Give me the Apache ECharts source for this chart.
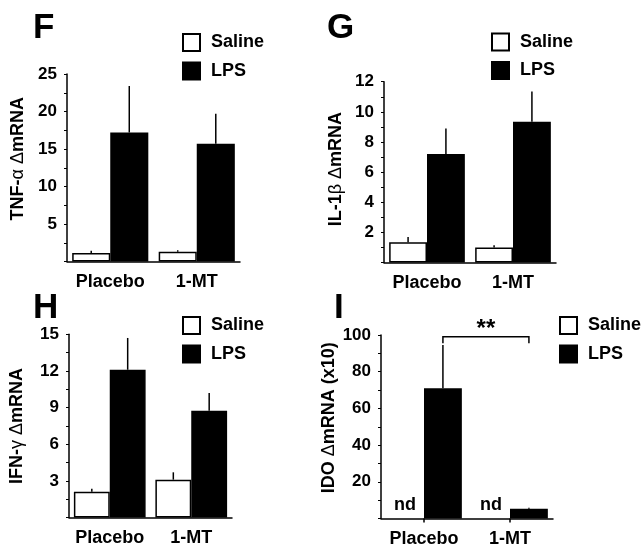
<!DOCTYPE html>
<html>
<head>
<meta charset="utf-8">
<script src="https://cdn.jsdelivr.net/npm/echarts@6/dist/echarts.min.js"></script>
<style>html,body{margin:0;padding:0;background:#fff}#c{width:642px;height:553px}</style>
</head>
<body>
<div id="c"></div>
<script>
// ---- data ----
const categories = ['Placebo', '1-MT'];
const seriesNames = ['Saline', 'LPS'];

const tnfSaline = [1.15, 1.3];
const tnfSalineErr = [0.3, 0.2];
const tnfLps = [17.2, 15.7];
const tnfLpsErr = [6.2, 4.0];

const il1Saline = [1.35, 1.0];
const il1SalineErr = [0.35, 0.15];
const il1Lps = [7.2, 9.35];
const il1LpsErr = [1.7, 2.0];

const ifnSaline = [2.1, 3.1];
const ifnSalineErr = [0.25, 0.6];
const ifnLps = [12.1, 8.75];
const ifnLpsErr = [2.6, 1.45];

const idoSaline = [0, 0];          // not detected
const idoSalineLabel = ['nd', 'nd'];
const idoLps = [71, 5.3];
const idoLpsErr = [23.5, 0.6];

const sigFrom = 0, sigTo = 1, sigTop = 99, sigDrop = 95.5, sigTextAt = 103, sigText = '**';

const panelLetters = ['F', 'G', 'H', 'I'];

// ---- styles ----
const FONT = 'Liberation Sans, Arial, sans-serif';
const GAP = 0.12;

const grids = [
  {left: 67, top: 74, width: 173, height: 187.5},
  {left: 384, top: 81.7, width: 172, height: 180.8},
  {left: 69, top: 334.3, width: 163, height: 183.2},
  {left: 381, top: 335, width: 172, height: 183.5}
];
const yCfg = [
  {max: 25, interval: 2.5, step: 5, name: '{b|TNF-}{n|α Δ}{b|mRNA}', pad: 18, gap: 40},
  {max: 12, interval: 1, step: 2, name: '{b|IL-1}{n|β Δ}{b|mRNA}', pad: 6, gap: 39},
  {max: 15, interval: 1.5, step: 3, name: '{b|IFN-}{n|γ Δ}{b|mRNA}', pad: 0, gap: 43},
  {max: 100, interval: 10, step: 20, name: '{b|IDO }{n|Δ}{b|mRNA (x10)}', pad: 18, gap: 43}
];
const legendPos = [
  {left: 177, top: 28},
  {left: 486, top: 27.5},
  {left: 177, top: 311},
  {left: 554, top: 311}
];
const titlePos = [
  {left: 28, top: 6}, {left: 322, top: 6}, {left: 28, top: 286}, {left: 329, top: 286}
];

const panelData = [
  [tnfSaline, tnfSalineErr, tnfLps, tnfLpsErr],
  [il1Saline, il1SalineErr, il1Lps, il1LpsErr],
  [ifnSaline, ifnSalineErr, ifnLps, ifnLpsErr],
  [idoSaline, null, idoLps, idoLpsErr]
];

function errRender(side) {
  return function (params, api) {
    const cat = api.value(0), lo = api.value(1), hi = api.value(2);
    const bw = api.size([1, 0])[0] * (1 - GAP) / 2;
    const p1 = api.coord([cat, lo]);
    const p2 = api.coord([cat, hi]);
    const x = p1[0] + side * bw / 2;
    return {type: 'line', shape: {x1: x, y1: p1[1], x2: x, y2: p2[1]},
            style: {stroke: '#000', lineWidth: 1.5}};
  };
}

const xAxes = [], yAxes = [], series = [], legends = [], titles = [];
panelData.forEach((pd, i) => {
  const c = yCfg[i];
  xAxes.push({
    type: 'category', gridIndex: i, data: categories,
    axisLine: {lineStyle: {color: '#000', width: 1.5}},
    axisTick: {show: i === 3, alignWithLabel: true, length: 4, lineStyle: {color: '#000', width: 1.5}},
    axisLabel: {interval: 0, hideOverlap: false, color: '#000', fontWeight: 'bold', fontSize: 18, fontFamily: FONT, margin: 12}
  });
  yAxes.push({
    type: 'value', gridIndex: i, min: 0, max: c.max, interval: c.interval,
    splitLine: {show: false},
    axisLine: {show: true, lineStyle: {color: '#000', width: 1.5}},
    axisTick: {show: true, length: 3, lineStyle: {color: '#000', width: 1}},
    axisLabel: {color: '#000', fontWeight: 'bold', fontSize: 17, fontFamily: FONT, margin: 10,
      formatter: v => (v > 0 && Math.abs(v / c.step - Math.round(v / c.step)) < 1e-9) ? String(v) : ''},
    name: c.name, nameLocation: 'middle', nameGap: c.gap, nameRotate: 90,
    nameTextStyle: {padding: [0, 0, 0, c.pad],
      rich: {b: {fontWeight: 'bold', fontSize: 18, fontFamily: FONT, color: '#000'},
             n: {fontWeight: 'normal', fontSize: 18, fontFamily: FONT, color: '#000'}}}
  });
  const [sal, salErr, lps, lpsErr] = pd;
  const salData = sal.map((v, k) => (i === 3)
    ? {value: v, itemStyle: {borderWidth: 0},
       label: {show: true, formatter: idoSalineLabel[k], position: 'top', distance: 4,
               fontWeight: 'bold', fontSize: 18, fontFamily: FONT, color: '#000'}}
    : v);
  series.push({
    type: 'bar', name: seriesNames[0], xAxisIndex: i, yAxisIndex: i, data: salData,
    barGap: '0%', barCategoryGap: (GAP * 100) + '%',
    itemStyle: {color: '#fff', borderColor: '#000', borderWidth: 1.5}, emphasis: {disabled: true}
  });
  series.push({
    type: 'bar', name: seriesNames[1], xAxisIndex: i, yAxisIndex: i, data: lps,
    barGap: '0%', barCategoryGap: (GAP * 100) + '%',
    itemStyle: {color: '#000', borderColor: '#000', borderWidth: 1.5}, emphasis: {disabled: true}
  });
  if (salErr) {
    series.push({
      type: 'custom', xAxisIndex: i, yAxisIndex: i, renderItem: errRender(-1), z: 5,
      data: sal.map((v, k) => [k, v, v + salErr[k]]), silent: true
    });
  }
  series.push({
    type: 'custom', xAxisIndex: i, yAxisIndex: i, renderItem: errRender(1), z: 5,
    data: lps.map((v, k) => [k, v, v + lpsErr[k]]), silent: true
  });
  legends.push({
    data: seriesNames, orient: 'vertical', left: legendPos[i].left, top: legendPos[i].top,
    itemWidth: 17, itemHeight: 17, itemGap: 9.5, icon: 'rect', selectedMode: false,
    textStyle: {color: '#000', fontWeight: 'bold', fontSize: 18, fontFamily: FONT, padding: [0, 0, 0, 6]}
  });
  titles.push({
    text: panelLetters[i], left: titlePos[i].left, top: titlePos[i].top,
    textStyle: {color: '#000', fontWeight: 'bold', fontSize: 35, fontFamily: FONT}
  });
});

// significance bracket in panel I
series.push({
  type: 'custom', xAxisIndex: 3, yAxisIndex: 3, z: 6, silent: true, clip: false,
  data: [[sigFrom, sigTo, sigTop, sigDrop, sigTextAt]],
  renderItem: function (params, api) {
    const bw = api.size([1, 0])[0] * (1 - GAP) / 2;
    const a = api.coord([api.value(0), api.value(2)]);
    const b = api.coord([api.value(1), api.value(2)]);
    const yd = api.coord([0, api.value(3)])[1];
    const yt = api.coord([0, api.value(4)])[1];
    const x1 = a[0] + bw / 2, x2 = b[0] + bw / 2;
    return {type: 'group', children: [
      {type: 'polyline', shape: {points: [[x1, yd], [x1, a[1]], [x2, a[1]], [x2, yd]]},
       style: {stroke: '#000', lineWidth: 1.5, fill: null}},
      {type: 'text', style: {text: sigText, x: (x1 + x2) / 2, y: yt, align: 'center',
        verticalAlign: 'middle', font: 'bold 24px ' + FONT, fill: '#000'}}
    ]};
  }
});

const chart = echarts.init(document.getElementById('c'), null, {renderer: 'canvas'});
chart.setOption({
  animation: false,
  backgroundColor: '#fff',
  title: titles,
  legend: legends,
  grid: grids,
  xAxis: xAxes,
  yAxis: yAxes,
  series: series,
  graphic: [{type: 'rect', left: 300, top: 330, shape: {width: 21, height: 180},
             style: {fill: '#fff'}, z: 100, silent: true}]
});
</script>
</body>
</html>
